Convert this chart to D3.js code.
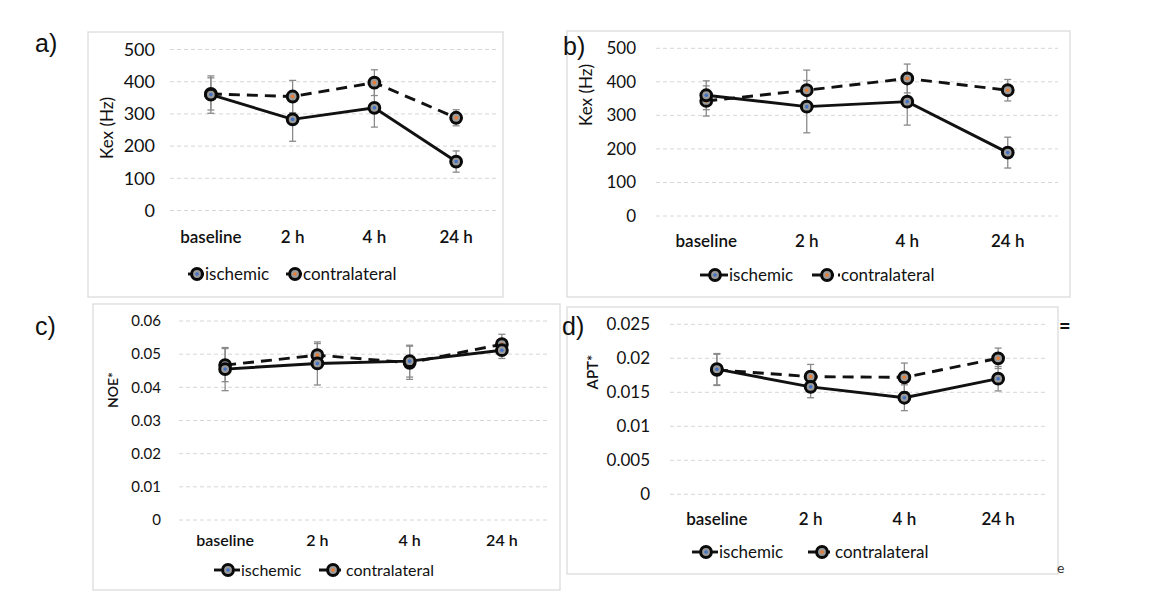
<!doctype html>
<html lang="en">
<head>
  <meta charset="utf-8">
  <title>Kex, NOE and APT panels</title>
</head>
<body style="margin:0; background:#fff; overflow:hidden">
  <script src="https://cdnjs.cloudflare.com/ajax/libs/d3/7.8.5/d3.min.js"></script>
  <script type="text/javascript">

    // ---- data ----
    const categories = ["baseline", "2 h", "4 h", "24 h"];
    const seriesNames = ["ischemic", "contralateral"];

    const kexA_isch = [360, 283, 319, 152];
    const kexA_isch_err = [58, 68, 60, 33];
    const kexA_contra = [362, 354, 397, 288];
    const kexA_contra_err = [50, 50, 40, 25];

    const kexB_isch = [360, 326, 341, 189];
    const kexB_isch_err = [43, 78, 70, 46];
    const kexB_contra = [343, 375, 410, 375];
    const kexB_contra_err = [45, 60, 43, 32];

    const noe_isch = [0.0455, 0.0472, 0.0479, 0.0512];
    const noe_isch_err = [0.0065, 0.0065, 0.0048, 0.0025];
    const noe_contra = [0.0467, 0.0497, 0.0474, 0.053];
    const noe_contra_err = [0.005, 0.0035, 0.005, 0.003];

    const apt_isch = [0.0184, 0.0158, 0.0142, 0.017];
    const apt_isch_err = [0.0023, 0.0016, 0.0019, 0.0018];
    const apt_contra = [0.0183, 0.0173, 0.0172, 0.020];
    const apt_contra_err = [0.0023, 0.0018, 0.0021, 0.0015];

    const kexTicks = [0, 100, 200, 300, 400, 500];
    const noeTicks = [0, 0.01, 0.02, 0.03, 0.04, 0.05, 0.06];
    const aptTicks = [0, 0.005, 0.01, 0.015, 0.02, 0.025];

    const markColors = { ischemic: "#4472c4", contralateral: "#ed7d31" };
    const font = "Lato, 'Open Sans', sans-serif";

    // layout per panel (positions only)
    let panels = [
      { tag: "a)", tagX: 35, tagY: 52, box: [88, 32, 503, 297],
        x: [170, 497], y: [210.5, 49.5], tickX: 155, tickFs: 18,
        title: "Kex (Hz)", titleX: 107, titleY: 128, titleFs: 17, titleW: 400,
        catY: 243, catFs: 17, legY: 274, legFs: 17, leg: [197, 295], legL: 9,
        isch: kexA_isch, ischErr: kexA_isch_err, con: kexA_contra, conErr: kexA_contra_err,
        ticks: kexTicks, fmt: d => d },
      { tag: "b)", tagX: 563, tagY: 55, box: [567, 31, 1070, 297],
        x: [656, 1058], y: [216, 48.3], tickX: 636, tickFs: 17,
        title: "Kex (Hz)", titleX: 586, titleY: 95, titleFs: 17, titleW: 400,
        catY: 247, catFs: 17, legY: 275, legFs: 17, leg: [715, 827], legL: 15,
        isch: kexB_isch, ischErr: kexB_isch_err, con: kexB_contra, conErr: kexB_contra_err,
        ticks: kexTicks, fmt: d => d },
      { tag: "c)", tagX: 35, tagY: 335, box: [93, 304, 560, 590],
        x: [179, 548], y: [520, 321], tickX: 161, tickFs: 15,
        title: "NOE*", titleX: 113, titleY: 390, titleFs: 14, titleW: 600,
        catY: 546, catFs: 16, legY: 570, legFs: 16, leg: [228, 333], legL: 14,
        isch: noe_isch, ischErr: noe_isch_err, con: noe_contra, conErr: noe_contra_err,
        ticks: noeTicks, fmt: d => d3.format("")(+d.toFixed(3)) },
      { tag: "d)", tagX: 562, tagY: 335, box: [567, 307, 1058, 574],
        x: [670, 1045], y: [494.3, 324.3], tickX: 650, tickFs: 17,
        title: "APT*", titleX: 593, titleY: 372, titleFs: 15, titleW: 600,
        catY: 525, catFs: 17, legY: 552, legFs: 17, leg: [706, 822], legL: 14,
        isch: apt_isch, ischErr: apt_isch_err, con: apt_contra, conErr: apt_contra_err,
        ticks: aptTicks, fmt: d => d3.format("")(+d.toFixed(3)) }
    ];

    let svg = d3.select("body").append("svg")
      .attr("width", 1162)
      .attr("height", 606)
      .attr("xmlns", "http://www.w3.org/2000/svg")
      .style("font-family", font);

    svg.append("rect").attr("width", 1162).attr("height", 606).attr("fill", "#fff");

    function marker(g, cx, cy, name) {
      g.append("circle").attr("cx", cx).attr("cy", cy).attr("r", 5.4)
        .attr("fill", "#9a9a9a").attr("stroke", "#0a0a0a").attr("stroke-width", 3);
      g.append("circle").attr("cx", cx).attr("cy", cy).attr("r", 1.8)
        .attr("fill", markColors[name]);
    }

    panels.forEach(p => {
      let g = svg.append("g");
      let [bx0, by0, bx1, by1] = p.box;

      g.append("rect")
        .attr("x", bx0).attr("y", by0)
        .attr("width", bx1 - bx0).attr("height", by1 - by0)
        .attr("fill", "#fff").attr("stroke", "#dcdcdc").attr("stroke-width", 1.3);

      let xScale = d3.scaleBand().domain(categories).range(p.x);
      let yScale = d3.scaleLinear().domain([0, d3.max(p.ticks)]).range(p.y);
      let cx = c => xScale(c) + xScale.bandwidth() / 2;

      // dashed gridlines
      g.selectAll(".grid").data(p.ticks).enter().append("line")
        .attr("x1", p.x[0]).attr("x2", p.x[1])
        .attr("y1", d => yScale(d)).attr("y2", d => yScale(d))
        .attr("stroke", "#d6d6d6").attr("stroke-width", 1)
        .attr("stroke-dasharray", "4,3");

      // y tick labels
      g.selectAll(".ytick").data(p.ticks).enter().append("text")
        .attr("x", p.tickX).attr("y", d => yScale(d))
        .attr("dy", "0.35em").attr("text-anchor", "end")
        .attr("font-size", p.tickFs).attr("fill", "#111")
        .text(p.fmt);

      // category labels
      g.selectAll(".xcat").data(categories).enter().append("text")
        .attr("x", d => cx(d)).attr("y", p.catY)
        .attr("text-anchor", "middle")
        .attr("font-size", p.catFs).attr("font-weight", 600).attr("fill", "#111")
        .text(d => d);

      // axis title
      g.append("text")
        .attr("transform", `translate(${p.titleX},${p.titleY}) rotate(-90)`)
        .attr("text-anchor", "middle").attr("dy", "0.35em")
        .attr("font-size", p.titleFs).attr("font-weight", p.titleW).attr("fill", "#111")
        .text(p.title);

      // panel tag
      svg.append("text")
        .attr("x", p.tagX).attr("y", p.tagY)
        .attr("font-size", 25).attr("fill", "#111")
        .attr("font-family", "'Liberation Sans', Arial, sans-serif")
        .text(p.tag);

      let series = [
        { name: "ischemic", vals: p.isch, err: p.ischErr, dash: null },
        { name: "contralateral", vals: p.con, err: p.conErr, dash: "11,7" }
      ];

      // error bars
      series.forEach(s => {
        s.vals.forEach((v, i) => {
          let x = cx(categories[i]);
          let y0 = yScale(v - s.err[i]), y1 = yScale(v + s.err[i]);
          g.append("line").attr("x1", x).attr("x2", x).attr("y1", y0).attr("y2", y1)
            .attr("stroke", "#8a8a8a").attr("stroke-width", 1.3);
          [y0, y1].forEach(yy => g.append("line")
            .attr("x1", x - 3.5).attr("x2", x + 3.5).attr("y1", yy).attr("y2", yy)
            .attr("stroke", "#8a8a8a").attr("stroke-width", 1.3));
        });
      });

      // lines
      series.slice().reverse().forEach(s => {
        let line = d3.line().x((d, i) => cx(categories[i])).y(d => yScale(d));
        g.append("path").datum(s.vals).attr("d", line)
          .attr("fill", "none").attr("stroke", "#111").attr("stroke-width", 2.9)
          .attr("stroke-dasharray", s.dash);
      });

      // markers
      series.slice().reverse().forEach(s => {
        s.vals.forEach((v, i) => marker(g, cx(categories[i]), yScale(v), s.name));
      });

      // legend
      series.forEach((s, k) => {
        let mx = p.leg[k];
        g.append("line").attr("x1", mx - p.legL).attr("x2", mx + p.legL - 2)
          .attr("y1", p.legY).attr("y2", p.legY)
          .attr("stroke", "#111").attr("stroke-width", 2.9)
          .attr("stroke-dasharray", s.dash ? "9,4" : null);
        marker(g, mx, p.legY, s.name);
        g.append("text").attr("x", mx + p.legL - 1).attr("y", p.legY)
          .attr("dy", "0.35em").attr("font-size", p.legFs).attr("fill", "#111")
          .text(seriesNames[k]);
      });
    });

    // stray glyph fragments peeking from behind panel d
    svg.append("text").attr("x", 1059).attr("y", 333).attr("font-size", 20)
      .attr("font-weight", 700).attr("fill", "#111").text("=");
    svg.append("text").attr("x", 1057).attr("y", 573).attr("font-size", 14)
      .attr("fill", "#333").text("e");

  </script>
</body>
</html>
